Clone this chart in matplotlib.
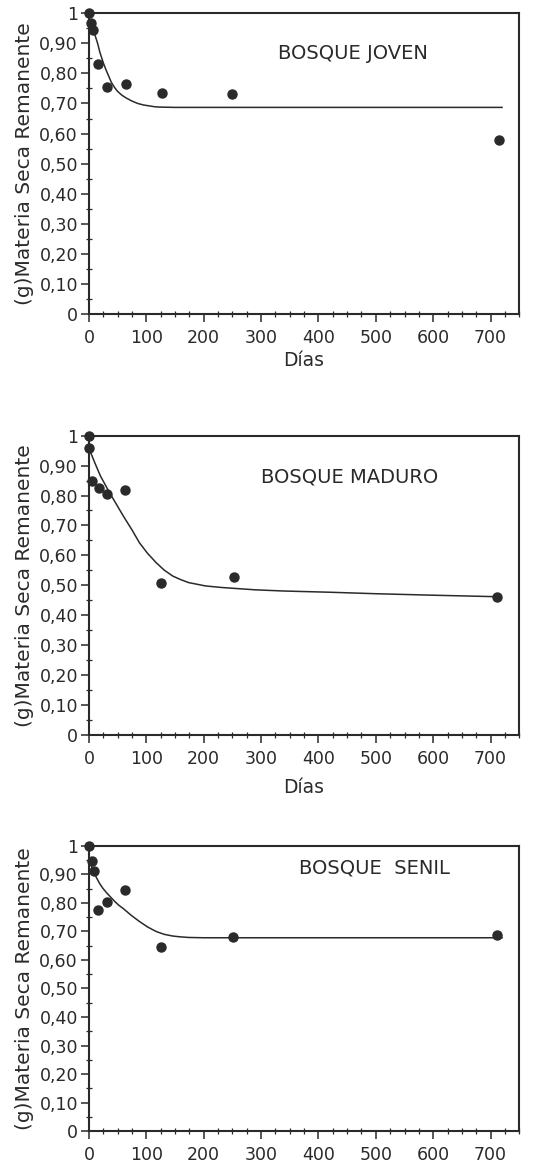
import matplotlib.pyplot as plt
from matplotlib.ticker import MultipleLocator

# puntos medidos (dias, g materia seca remanente)
joven_dias = [0, 3, 7, 15, 31, 64, 127, 250, 714]
joven_peso = [1.00, 0.969, 0.943, 0.832, 0.755, 0.764, 0.735, 0.732, 0.579]
joven_curva_dias = [0, 5, 10, 15, 19, 25, 30, 35, 39, 45, 50, 57, 65, 75, 85, 95, 105, 115, 123, 150, 200, 720]
joven_curva_peso = [0.975, 0.955, 0.93, 0.90, 0.87, 0.835, 0.81, 0.788, 0.77, 0.752, 0.74, 0.728, 0.718, 0.708,
                    0.70, 0.695, 0.692, 0.689, 0.688, 0.687, 0.687, 0.687]

maduro_dias = [0, 0, 6, 17, 31, 63, 125, 252, 712]
maduro_peso = [1.00, 0.959, 0.848, 0.825, 0.806, 0.819, 0.509, 0.529, 0.460]
maduro_curva_dias = [0, 2, 10, 20, 36, 48, 60, 75, 88, 102, 117, 131, 146, 160, 174, 190, 203, 230, 252,
                     290, 340, 419, 500, 600, 712]
maduro_curva_peso = [0.955, 0.948, 0.91, 0.865, 0.809, 0.77, 0.731, 0.685, 0.642, 0.607, 0.576, 0.551, 0.531,
                     0.519, 0.509, 0.503, 0.498, 0.493, 0.490, 0.485, 0.481, 0.477, 0.472, 0.467, 0.462]

senil_dias = [0, 6, 9, 15, 31, 63, 125, 251, 712]
senil_peso = [1.00, 0.946, 0.911, 0.775, 0.805, 0.847, 0.646, 0.681, 0.687]
senil_curva_dias = [0, 4, 8, 13, 18, 24, 31, 38, 45, 52, 60, 74, 88, 102, 117, 131, 146, 160, 174, 200, 250, 720]
senil_curva_peso = [0.955, 0.93, 0.91, 0.889, 0.87, 0.852, 0.835, 0.82, 0.805, 0.792, 0.78, 0.756, 0.735, 0.716,
                    0.70, 0.69, 0.684, 0.681, 0.679, 0.678, 0.678, 0.678]

titulos = ['BOSQUE JOVEN', 'BOSQUE MADURO', 'BOSQUE  SENIL']
ytick_vals = [0, 0.1, 0.2, 0.3, 0.4, 0.5, 0.6, 0.7, 0.8, 0.9, 1.0]
ytick_lbls = ['0', '0,10', '0,20', '0,30', '0,40', '0,50', '0,60', '0,70', '0,80', '0,90', '1']
xtick_vals = [0, 100, 200, 300, 400, 500, 600, 700]

plt.rcParams['font.family'] = ['DejaVu Sans']
color = '#2a2a2a'

fig = plt.figure(figsize=(5.46, 11.63), dpi=100)
# posiciones de los tres paneles (left, bottom, width, height)
posiciones = [
    [0.163, 0.730, 0.788, 0.2586],
    [0.163, 0.368, 0.788, 0.2574],
    [0.163, 0.0275, 0.788, 0.2451],
]
datos = [
    (joven_dias, joven_peso, joven_curva_dias, joven_curva_peso, (0.614, 0.867)),
    (maduro_dias, maduro_peso, maduro_curva_dias, maduro_curva_peso, (0.605, 0.863)),
    (senil_dias, senil_peso, senil_curva_dias, senil_curva_peso, (0.663, 0.923)),
]
xlabel_pads = [3, 7]

for i in range(3):
    ax = fig.add_axes(posiciones[i])
    d, p, cd, cp, tpos = datos[i]
    ax.plot(cd, cp, color=color, lw=1.1)
    ax.plot(d, p, 'o', color=color, ms=6.5, clip_on=False, zorder=5)
    ax.set_xlim(0, 750)
    ax.set_ylim(0, 1.0)
    ax.set_yticks(ytick_vals)
    ax.set_yticklabels(ytick_lbls)
    ax.set_xticks(xtick_vals)
    ax.xaxis.set_minor_locator(MultipleLocator(25))
    ax.yaxis.set_minor_locator(MultipleLocator(0.05))
    ax.tick_params(axis='both', which='major', direction='out', length=6, width=1.1,
                   colors=color, labelsize=12.5, pad=2)
    ax.tick_params(axis='x', which='major', pad=5)
    ax.tick_params(axis='both', which='minor', direction='inout', length=5, width=0.9, colors=color)
    for s in ax.spines.values():
        s.set_color(color)
        s.set_linewidth(1.5)
    ax.set_ylabel('(g)Materia Seca Remanente', fontsize=14.5, color=color, labelpad=4)
    if i < 2:
        ax.set_xlabel('Días', fontsize=13.5, color=color, labelpad=xlabel_pads[i])
    ax.text(tpos[0], tpos[1], titulos[i], transform=ax.transAxes, fontsize=14,
            color=color, ha='center', va='center')

fig.savefig('out.png', dpi=100)
